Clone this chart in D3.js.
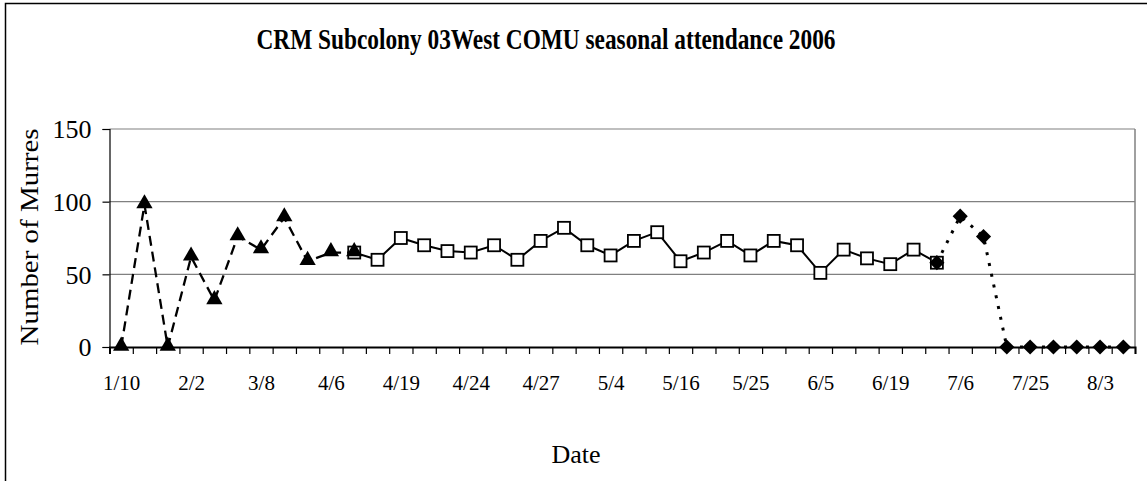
<!DOCTYPE html>
<html>
<head>
<meta charset="utf-8">
<script src="https://cdn.jsdelivr.net/npm/d3@7"></script>
<style>
  body { margin: 0; background: #fff; }
  text { font-family: "Liberation Serif", "Times New Roman", serif; fill: #000; }
</style>
</head>
<body>
<script>
// tick labels shown under every third date slot
var xLabels = ["1/10", "2/2", "3/8", "4/6", "4/19", "4/24", "4/27", "5/4",
  "5/16", "5/25", "6/5", "6/19", "7/6", "7/25", "8/3"];

// early season counts (triangles, dashed)
var earlyCounts = [0, 98, 0, 62, 32, 76, 67, 89, 59, 65, 65];
// main season counts (open squares, solid) starting at slot 10
var mainCounts = [65, 60, 75, 70, 66, 65, 70, 60, 73, 82, 70, 63, 73, 79, 59,
  65, 73, 63, 73, 70, 51, 67, 61, 57, 67, 58];
// late season counts (diamonds, dotted) starting at slot 35
var lateCounts = [58, 90, 76, 0, 0, 0, 0, 0, 0];

var mainStart = 10, lateStart = 35;
var yTicks = [0, 50, 100, 150];

var nSlots = lateStart + lateCounts.length;

var w = 1147, h = 481;
var plot = { left: 109.5, right: 1135, top: 129, bottom: 347 };

var svg = d3.select("body").append("svg")
  .attr("width", w)
  .attr("height", h);

// chart area frame (runs off right and bottom)
svg.append("rect")
  .attr("x", 5.5).attr("y", 3.5)
  .attr("width", w + 10).attr("height", h + 10)
  .attr("fill", "#fff")
  .attr("stroke", "#000")
  .attr("stroke-width", 1.5);

var x = d3.scaleLinear()
  .domain([0, nSlots])
  .range([plot.left, plot.right]);

var y = d3.scaleLinear()
  .domain([0, 150])
  .range([plot.bottom, plot.top]);

// gridlines
svg.append("g")
  .attr("class", "grid")
  .selectAll("line")
  .data(yTicks.filter(function (d) { return d > 0; }))
  .enter().append("line")
  .attr("x1", plot.left).attr("x2", plot.right)
  .attr("y1", function (d) { return y(d); })
  .attr("y2", function (d) { return y(d); })
  .attr("stroke", "#808080")
  .attr("stroke-width", 1.2);

// right edge of the plot area
svg.append("line")
  .attr("x1", plot.right).attr("x2", plot.right)
  .attr("y1", plot.top).attr("y2", plot.bottom)
  .attr("stroke", "#808080")
  .attr("stroke-width", 1.5);

// y axis
var yAxis = d3.axisLeft(y)
  .tickValues(yTicks)
  .tickSize(7)
  .tickPadding(11)
  .tickFormat(d3.format("d"));

var gy = svg.append("g")
  .attr("transform", "translate(" + plot.left + ",0)")
  .call(yAxis);
gy.select(".domain").attr("stroke", "#000").attr("stroke-width", 1.2);
gy.selectAll(".tick line").attr("stroke", "#000").attr("stroke-width", 1.2);
gy.selectAll(".tick text")
  .attr("font-size", 26)
  .attr("dy", "0.34em")
  .style("font-family", "'Liberation Serif', serif");

// x axis: tick marks on slot boundaries
var xAxis = d3.axisBottom(x)
  .tickValues(d3.range(nSlots + 1))
  .tickSize(7)
  .tickFormat("");

var gx = svg.append("g")
  .attr("transform", "translate(0," + plot.bottom + ")")
  .call(xAxis);
gx.select(".domain").attr("stroke", "#000").attr("stroke-width", 2);
gx.selectAll(".tick line").attr("stroke", "#000").attr("stroke-width", 1.2);

// x labels centred on every third slot
var xLabelAxis = d3.axisBottom(x)
  .tickValues(xLabels.map(function (d, i) { return i * 3 + 0.5; }))
  .tickSize(0)
  .tickPadding(28)
  .tickFormat(function (d) { return xLabels[(d - 0.5) / 3]; });

var gxl = svg.append("g")
  .attr("transform", "translate(0," + plot.bottom + ")")
  .call(xLabelAxis);
gxl.select(".domain").remove();
gxl.selectAll(".tick text")
  .attr("font-size", 21)
  .style("font-family", "'Liberation Serif', serif");

// series
function pts(values, start) {
  return values.map(function (v, i) { return { slot: start + i, v: v }; });
}
var early = pts(earlyCounts, 0),
  main = pts(mainCounts, mainStart),
  late = pts(lateCounts, lateStart);

var line = d3.line()
  .x(function (d) { return x(d.slot + 0.5); })
  .y(function (d) { return y(d.v); });

svg.append("path").datum(main)
  .attr("d", line)
  .attr("fill", "none")
  .attr("stroke", "#000")
  .attr("stroke-width", 2);

svg.append("path").datum(early)
  .attr("d", line)
  .attr("fill", "none")
  .attr("stroke", "#000")
  .attr("stroke-width", 2.3)
  .attr("stroke-dasharray", "10,6");

svg.append("path").datum(late)
  .attr("d", line)
  .attr("fill", "none")
  .attr("stroke", "#000")
  .attr("stroke-width", 3)
  .attr("stroke-dasharray", "3,8");

// markers
svg.append("g").selectAll("rect")
  .data(main)
  .enter().append("rect")
  .attr("x", function (d) { return x(d.slot + 0.5) - 6; })
  .attr("y", function (d) { return y(d.v) - 6; })
  .attr("width", 12).attr("height", 12)
  .attr("fill", "#fff")
  .attr("stroke", "#000")
  .attr("stroke-width", 1.8);

var tri = d3.symbol().type(d3.symbolTriangle).size(115);
svg.append("g").selectAll("path")
  .data(early)
  .enter().append("path")
  .attr("d", tri)
  .attr("transform", function (d) {
    return "translate(" + x(d.slot + 0.5) + "," + (y(d.v) - 1) + ")";
  })
  .attr("fill", "#000");

var dia = d3.symbol().type(d3.symbolSquare).size(115);
svg.append("g").selectAll("path")
  .data(late)
  .enter().append("path")
  .attr("d", dia)
  .attr("transform", function (d) {
    return "translate(" + x(d.slot + 0.5) + "," + y(d.v) + ") rotate(45)";
  })
  .attr("fill", "#000");

// titles
svg.append("text")
  .attr("x", 546).attr("y", 49)
  .attr("text-anchor", "middle")
  .attr("font-size", 30)
  .attr("font-weight", "bold")
  .attr("textLength", 579)
  .attr("lengthAdjust", "spacingAndGlyphs")
  .text("CRM Subcolony 03West COMU seasonal attendance 2006");

svg.append("text")
  .attr("transform", "translate(38,237) rotate(-90)")
  .attr("text-anchor", "middle")
  .attr("font-size", 25)
  .attr("textLength", 217)
  .attr("lengthAdjust", "spacingAndGlyphs")
  .text("Number of Murres");

svg.append("text")
  .attr("x", 576).attr("y", 463)
  .attr("text-anchor", "middle")
  .attr("font-size", 26)
  .text("Date");
</script>
</body>
</html>
